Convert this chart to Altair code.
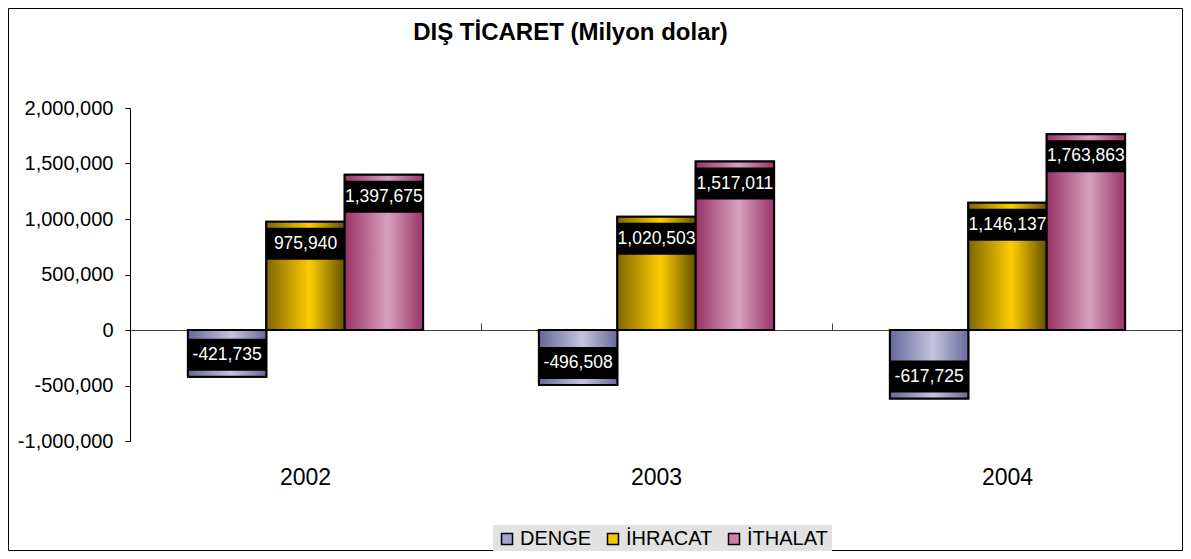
import altair as alt
import pandas as pd

YEARS = ["2002", "2003", "2004"]
SERIES = ["DENGE", "İHRACAT", "İTHALAT"]
DENGE = [-421735, -496508, -617725]
IHRACAT = [975940, 1020503, 1146137]
ITHALAT = [1397675, 1517011, 1763863]
Y_TICKS = [-1000000, -500000, 0, 500000, 1000000, 1500000, 2000000]
TITLE = "DIŞ TİCARET (Milyon dolar)"

rows = []
for s, vals in zip(SERIES, [DENGE, IHRACAT, ITHALAT]):
    for yr, v in zip(YEARS, vals):
        rows.append({"year": yr, "series": s, "value": v, "label": f"{v:,}"})
df = pd.DataFrame(rows)

W, H = 1053, 333
YMIN, YMAX = -1000000, 2000000
PX = (YMAX - YMIN) / H  # data units per pixel
FONT = "Liberation Sans"

SOLID = ["#a3a3cf", "#f5c400", "#cc7fa3"]


def grad(edge_l, mid, edge_r):
    return alt.LinearGradient(
        gradient="linear", x1=0, x2=1, y1=0, y2=0,
        stops=[alt.GradientStop(offset=0, color=edge_l),
               alt.GradientStop(offset=0.55, color=mid),
               alt.GradientStop(offset=1, color=edge_r)])


GRADS = {
    "DENGE": grad("#66669a", "#c4c4de", "#6a6a9c"),
    "İHRACAT": grad("#7d6600", "#ffcc00", "#665200"),
    "İTHALAT": grad("#993366", "#d7a0bd", "#993366"),
}

xscale = alt.Scale(paddingInner=0.33, paddingOuter=0.165)
x_bottom = alt.X("year:N", sort=YEARS, scale=xscale,
                 axis=alt.Axis(orient="bottom", title=None, ticks=False, domain=False,
                               labelAngle=0, labelFontSize=23, labelFont=FONT,
                               labelColor="black", labelPadding=25))
x_none = alt.X("year:N", sort=YEARS, scale=xscale, axis=None)
xoff = alt.XOffset("series:N", scale=alt.Scale(domain=SERIES))
yscale = alt.Scale(domain=[YMIN, YMAX], nice=False)
yaxis = alt.Axis(values=Y_TICKS, format=",d",
                 labelExpr="replace(datum.label, '\u2212', '-')",
                 grid=False, title=None, domainColor="black",
                 tickColor="black", tickSize=5, labelFontSize=20,
                 labelFont=FONT, labelColor="black", labelPadding=12)


def yenc(field):
    return alt.Y(field, scale=yscale, axis=yaxis, title=None)


base = alt.Chart(df).mark_bar(stroke="black", strokeWidth=2).encode(
    x=x_bottom, xOffset=xoff, y=yenc("value:Q"),
    color=alt.Color("series:N", scale=alt.Scale(domain=SERIES, range=SOLID),
                    legend=alt.Legend(title=None, orient="none", legendX=363, legendY=417,
                                      direction="horizontal", symbolType="square",
                                      symbolSize=121, symbolStrokeColor="black",
                                      symbolStrokeWidth=1.5, symbolOpacity=1,
                                      labelFontSize=20, labelFont=FONT, labelColor="black",
                                      fillColor="#e2e2e2", padding=4, columnPadding=11,
                                      labelOffset=3)),
)

# zero line with tick marks between the year groups
zero_axis = alt.Chart(df).mark_rule(opacity=0).encode(
    x=alt.X("year:N", sort=YEARS, scale=alt.Scale(paddingInner=0, paddingOuter=0),
            axis=alt.Axis(orient="top", title=None, labels=False, offset=-222,
                          tickBand="extent", tickSize=7, tickColor="#404040",
                          domainColor="#404040", domainWidth=1)))

layers = [base]
for s in SERIES:
    layers.append(
        alt.Chart(df).transform_filter(alt.datum.series == s)
        .mark_bar(fill=GRADS[s], stroke="black", strokeWidth=2)
        .encode(x=x_none, xOffset=xoff, y=yenc("value:Q"))
    )

boxes = alt.Chart(df).transform_calculate(
    sgn="datum.value < 0 ? -1 : 1",
    b1=f"datum.value - datum.sgn * {6 * PX}",
    b2=f"datum.value - datum.sgn * {38 * PX}",
).mark_rect(fill="black").encode(
    x=x_none, xOffset=xoff, y=yenc("b1:Q"), y2="b2:Q")

texts = alt.Chart(df).transform_calculate(
    sgn="datum.value < 0 ? -1 : 1",
    ty=f"datum.value - datum.sgn * {22 * PX}",
).mark_text(color="white", fontSize=17.5, font=FONT, baseline="middle", align="center").encode(
    x=x_none, xOffset=xoff, y=yenc("ty:Q"), text="label:N")

border = alt.Chart(pd.DataFrame({"a": [0]})).mark_rect(
    fill=None, stroke="black", strokeWidth=1).encode(
    x=alt.value(-121.5), x2=alt.value(W - 0.5), y=alt.value(-99.5), y2=alt.value(H + 109.5))

chart = alt.layer(zero_axis, *layers, boxes, texts, border).resolve_scale(
    x="independent"
).properties(
    width=W, height=H,
    title=alt.TitleParams(TITLE, font=FONT, fontSize=24, fontWeight="bold",
                          anchor="middle", frame="group", offset=-37, dx=-86,
                          color="black"),
    autosize=alt.AutoSizeParams(type="none"),
    padding={"left": 122, "top": 100, "right": 0, "bottom": 110},
    background="white",
).configure_view(stroke=None)

chart.save("out.html", embed_options={"renderer": "svg", "actions": False})
